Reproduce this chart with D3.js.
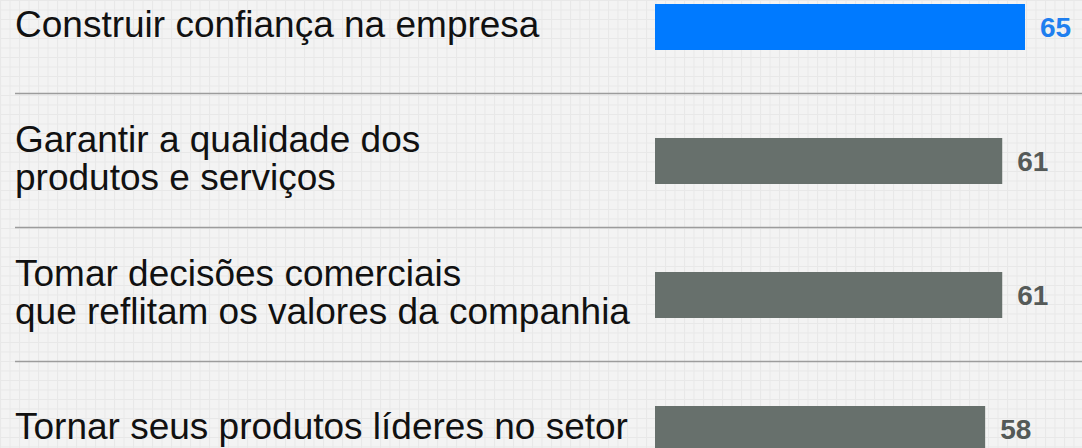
<!DOCTYPE html>
<html lang="pt">
<head>
    <meta charset="UTF-8">
    <title>Prioridades</title>
    <script src="https://d3js.org/d3.v7.min.js"></script>
    <style>
        html, body { margin: 0; padding: 0; background: #f3f3f3; }
        svg { display: block; }
    </style>
</head>
<body>
    <div id="chart"></div>

    <script>
        // Data
        var categories = [
            "Construir confiança na empresa",
            "Garantir a qualidade dos produtos e serviços",
            "Tomar decisões comerciais que reflitam os valores da companhia",
            "Tornar seus produtos líderes no setor"
        ];
        var labelLines = [
            ["Construir confiança na empresa"],
            ["Garantir a qualidade dos", "produtos e serviços"],
            ["Tomar decisões comerciais", "que reflitam os valores da companhia"],
            ["Tornar seus produtos líderes no setor"]
        ];
        var values = [65, 61, 61, 58];
        var highlight = [true, false, false, false];

        var width = 1082;
        var height = 448;

        var svg = d3.select("#chart").append("svg")
            .attr("width", width)
            .attr("height", height);

        // Background grid texture
        var defs = svg.append("defs");
        var pat = defs.append("pattern")
            .attr("id", "grid")
            .attr("width", 9.5)
            .attr("height", 9.5)
            .attr("patternUnits", "userSpaceOnUse");
        pat.append("rect").attr("width", 9.5).attr("height", 9.5).attr("fill", "#f3f3f3");
        pat.append("path")
            .attr("d", "M0,0.5H9.5M0.5,0V9.5")
            .attr("stroke", "#e8e8e8")
            .attr("stroke-width", 1);
        svg.append("rect")
            .attr("width", width)
            .attr("height", height)
            .attr("fill", "url(#grid)");

        // Scales
        var x = d3.scaleLinear()
            .domain([0, 65])
            .range([655, 1025]);

        var pad = 88 / 134;
        var y = d3.scaleBand()
            .domain(categories)
            .range([-40, 496])
            .paddingInner(pad)
            .paddingOuter(pad / 2);

        var step = y.step();

        // Separator lines between rows
        svg.selectAll(".sep")
            .data(categories.slice(0, -1))
            .enter().append("line")
            .attr("class", "sep")
            .attr("x1", 15)
            .attr("x2", width)
            .attr("y1", function(d) { return y(d) + y.bandwidth() / 2 + step / 2 - 0.5; })
            .attr("y2", function(d) { return y(d) + y.bandwidth() / 2 + step / 2 - 0.5; })
            .attr("stroke", "#9c9c9c")
            .attr("stroke-width", 1.5);

        // Bars
        svg.selectAll(".bar")
            .data(categories)
            .enter().append("rect")
            .attr("class", "bar")
            .attr("x", x(0))
            .attr("y", function(d) { return y(d); })
            .attr("width", function(d, i) { return x(values[i]) - x(0); })
            .attr("height", y.bandwidth())
            .attr("fill", function(d, i) { return highlight[i] ? "#007aff" : "#67706c"; });

        // Category labels
        var lineH = 38;
        var labels = svg.selectAll(".label")
            .data(categories)
            .enter().append("text")
            .attr("class", "label")
            .attr("font-family", "'Liberation Sans', Arial, sans-serif")
            .attr("font-size", "37px")
            .attr("fill", "#111");

        labels.selectAll("tspan")
            .data(function(d, i) {
                var lines = labelLines[i];
                var c = y(d) + y.bandwidth() / 2;
                return lines.map(function(t, j) {
                    return { text: t, y: c + 10 + (j - (lines.length - 1) / 2) * lineH };
                });
            })
            .enter().append("tspan")
            .attr("x", 15)
            .attr("y", function(d) { return d.y; })
            .text(function(d) { return d.text; });

        // Value labels
        svg.selectAll(".value")
            .data(categories)
            .enter().append("text")
            .attr("class", "value")
            .attr("x", function(d, i) { return x(values[i]) + 15; })
            .attr("y", function(d) { return y(d) + y.bandwidth() / 2; })
            .attr("dy", "0.36em")
            .attr("font-family", "'Liberation Sans', Arial, sans-serif")
            .attr("font-size", "28px")
            .attr("font-weight", "bold")
            .attr("fill", function(d, i) { return highlight[i] ? "#1f7fef" : "#555a58"; })
            .text(function(d, i) { return values[i]; });
    </script>
</body>
</html>
